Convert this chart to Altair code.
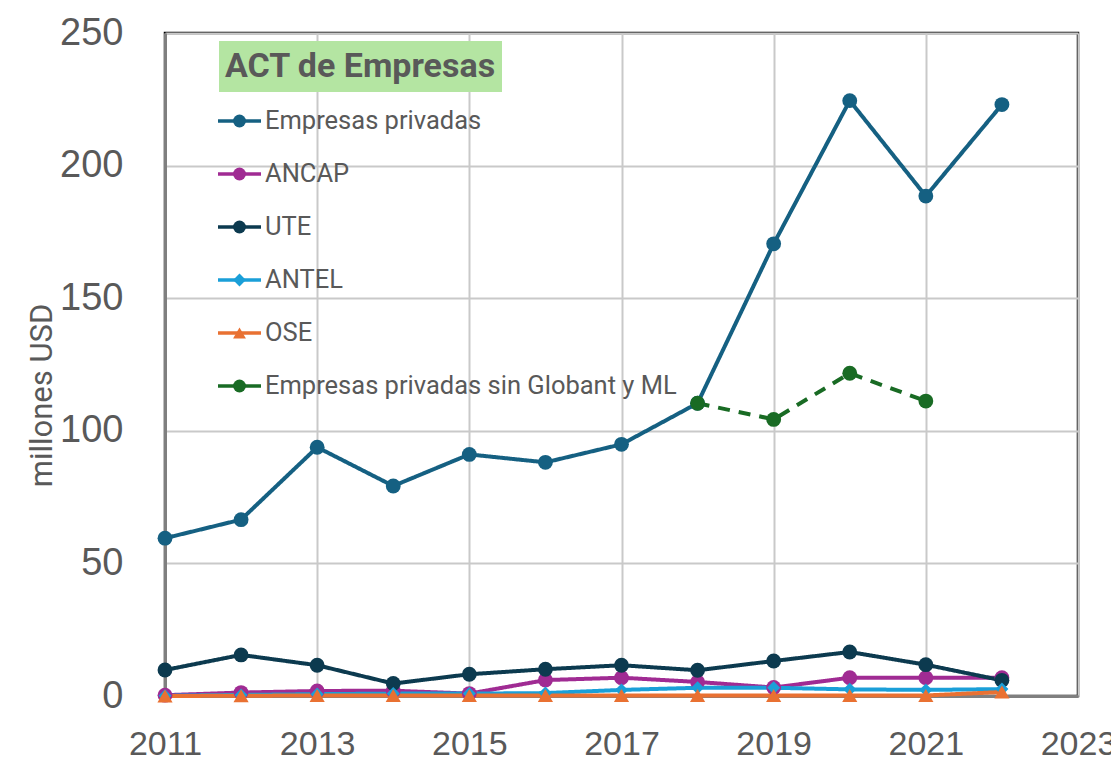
import altair as alt
import pandas as pd

# ---------------- data ----------------
years = [2011, 2012, 2013, 2014, 2015, 2016, 2017, 2018, 2019, 2020, 2021, 2022]
series_names = ["Empresas privadas", "ANCAP", "UTE", "ANTEL", "OSE",
                "Empresas privadas sin Globant y ML"]
privadas = [59.5, 66.5, 93.8, 79.2, 91.1, 88.1, 94.9, 110.4, 170.5, 224.5, 188.5, 223.0]
ancap = [0.3, 1.3, 1.9, 2.0, 0.9, 6.0, 6.9, 5.3, 3.2, 6.9, 6.9, 6.9]
ute = [9.8, 15.5, 11.6, 4.7, 8.2, 10.1, 11.6, 9.7, 13.2, 16.6, 11.8, 5.9]
antel = [0.1, 0.4, 0.7, 0.9, 0.9, 1.1, 2.3, 3.1, 3.1, 2.5, 2.3, 2.6]
ose = [0.0, 0.1, 0.2, 0.2, 0.2, 0.2, 0.2, 0.2, 0.2, 0.2, 0.2, 1.5]
sin_years = [2018, 2019, 2020, 2021]
sin_globant = [110.4, 104.3, 121.7, 111.2]
colors = ["#156082", "#A02B93", "#0C3A4F", "#1A9FD8", "#E97132", "#196B24"]
shapes = ["circle", "circle", "circle", "diamond", "triangle-up", "circle"]
legend_title = ["ACT de Empresas"]
x_ticks = [2011, 2013, 2015, 2017, 2019, 2021, 2023]
y_ticks = [0, 50, 100, 150, 200, 250]

rows = []
for name, vals in zip(series_names[:5], [privadas, ancap, ute, antel, ose]):
    for yr, v in zip(years, vals):
        rows.append({"serie": name, "anio": yr, "valor": v})
for yr, v in zip(sin_years, sin_globant):
    rows.append({"serie": series_names[5], "anio": yr, "valor": v})
df = pd.DataFrame(rows)

legend_df = pd.DataFrame({"serie": series_names, "fila": list(range(len(series_names)))})
title_df = pd.DataFrame({"titulo": legend_title})

color_scale = alt.Scale(domain=series_names, range=colors)

x_enc = alt.X("anio:Q", scale=alt.Scale(domain=[2011, 2023], nice=False, zero=False),
              axis=alt.Axis(values=x_ticks, format="d", title=None, labelFontSize=34,
                            labelPadding=31, labelFlush=False))
y_enc = alt.Y("valor:Q", scale=alt.Scale(domain=[0, 250], nice=False),
              axis=alt.Axis(values=y_ticks, title="millones USD", labelFontSize=38,
                            labelPadding=42, titleFont="Roboto", titleFontSize=31,
                            titleFontWeight="normal", titleColor="#595959",
                            titleX=-123, titleY=362, titleAngle=270,
                            titleAlign="center", titleBaseline="middle"))

base = alt.Chart(df).encode(x=x_enc, y=y_enc)

lines = base.mark_line(strokeWidth=4).encode(
    color=alt.Color("serie:N", scale=color_scale, legend=None),
    strokeDash=alt.StrokeDash("serie:N",
                              scale=alt.Scale(domain=series_names,
                                              range=[[1, 0]] * 5 + [[12, 9]]),
                              legend=None),
)

circles = base.transform_filter(
    alt.FieldOneOfPredicate(field="serie",
                            oneOf=["Empresas privadas", "ANCAP", "UTE",
                                   "Empresas privadas sin Globant y ML"])
).mark_point(filled=True, shape="circle", size=220, opacity=1).encode(
    color=alt.Color("serie:N", scale=color_scale, legend=None))

diamonds = base.transform_filter(alt.datum.serie == "ANTEL").mark_point(
    filled=True, shape="diamond", size=170, opacity=1).encode(
    color=alt.Color("serie:N", scale=color_scale, legend=None))

triangles = base.transform_filter(alt.datum.serie == "OSE").mark_point(
    filled=True, shape="triangle-up", size=230, opacity=1).encode(
    color=alt.Color("serie:N", scale=color_scale, legend=None))

data_layers = alt.layer(lines, circles, diamonds, triangles)

# ---------------- legend (drawn as marks) ----------------
row_y = alt.Y("fila:Q", scale=alt.Scale(domain=[0, 5], range=[88, 353]), axis=None)
leg_base = alt.Chart(legend_df).encode(y=row_y)
leg_lines = leg_base.mark_rule(strokeWidth=3.5).encode(
    x=alt.value(53), x2=alt.value(96),
    color=alt.Color("serie:N", scale=color_scale, legend=None))
leg_points = leg_base.mark_point(filled=True, size=165, opacity=1).encode(
    x=alt.value(74.5),
    color=alt.Color("serie:N", scale=color_scale, legend=None),
    shape=alt.Shape("serie:N", scale=alt.Scale(domain=series_names, range=shapes),
                    legend=None))
leg_text = leg_base.mark_text(font="Roboto", fontSize=25.5, color="#595959",
                              align="left", baseline="middle").encode(
    x=alt.value(100), text="serie:N")
legend_layers = alt.layer(leg_lines, leg_points, leg_text)

title_box = alt.Chart(title_df).mark_rect(color="#B4E5A2").encode(
    x=alt.value(54), x2=alt.value(337), y=alt.value(8), y2=alt.value(59))
title_text = alt.Chart(title_df).mark_text(
    font="Roboto", fontSize=34, fontWeight="bold", color="#595959",
    align="center", baseline="middle").encode(
    x=alt.value(195), y=alt.value(34), text="titulo:N")

chart = alt.layer(title_box, title_text, data_layers, legend_layers).resolve_scale(
    y="independent"
).properties(
    width=913, height=663,
    autosize=alt.AutoSizeParams(type="none"),
    padding={"left": 157, "top": 25, "right": 33, "bottom": 60},
).configure_view(
    stroke="black", strokeWidth=2.5
).configure_axis(
    gridColor="#c9c9c9", gridWidth=2, labelColor="#595959", labelFont="Liberation Sans",
    domainColor="#7f7f7f", domainWidth=3, ticks=False
)

chart.save("out.html", embed_options={"renderer": "svg", "actions": False})
